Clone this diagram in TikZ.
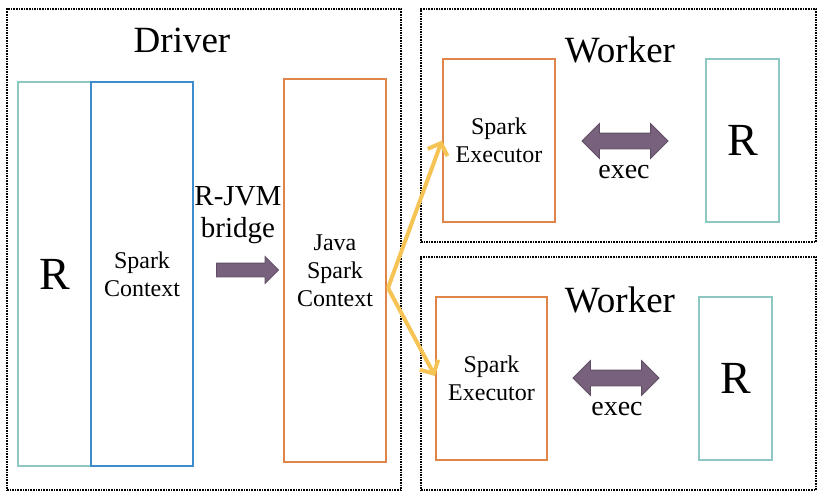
\documentclass[tikz,border=0pt]{standalone}
\usepackage{fontspec}
\setmainfont{Liberation Serif}
\usepackage{tikz}
\usetikzlibrary{shapes,arrows,arrows.meta}
\definecolor{rteal}{rgb}{0.55, 0.78, 0.76}
\definecolor{scblue}{rgb}{0.24, 0.55, 0.80}
\definecolor{jorange}{rgb}{0.88, 0.52, 0.29}
\definecolor{bridgepurple}{rgb}{0.47, 0.38, 0.49}
\definecolor{forkyellow}{rgb}{0.96, 0.77, 0.33}

\begin{document}
\begin{tikzpicture}[x=1pt,y=-1pt,
  frame/.style={draw, densely dotted, line width=1.6pt, inner sep=0, minimum width=395, minimum height=233},
  rbox/.style={draw=rteal, line width=2pt, inner sep=0, minimum width=73, font=\fontsize{46}{50}\selectfont},
  cbox/.style={line width=2pt, inner sep=0, align=center, font=\fontsize{24}{28}\selectfont},
  title/.style={font=\fontsize{37}{40}\selectfont},
  fat/.style={fill=bridgepurple, draw=bridgepurple!80!black, line width=0.8pt, inner xsep=0, inner ysep=7.5},
  fork/.style={draw=forkyellow, line width=4pt, -{Straight Barb[length=10pt,width=21pt]}}]
\useasboundingbox (0,0) rectangle (823,498);
% frames
\node[frame, minimum width=394, minimum height=481] (driver) at (204,249.5) {};
\node[frame] (worker1) at (618.5,125.5) {};
\node[frame] (worker2) at (618.5,373.5) {};
\node[title] (drivertitle) at (182,40) {Driver};
\node[title] (worker1title) at (620,50) {Worker};
\node[title] (worker2title) at (620,300) {Worker};
% driver
\node[rbox, minimum height=384] (dR) at (54.5,274) {R};
\node[cbox, draw=scblue, minimum width=102, minimum height=384] (sc) at (142,274) {Spark\\Context};
\node[cbox, draw=jorange, minimum width=102, minimum height=383] (jsc) at (335,270.5) {Java\\Spark\\Context};
\node[align=center, font=\fontsize{29}{32}\selectfont] (bridge) at (238,215) {R-JVM\\bridge};
\node[fat, inner ysep=6.5, single arrow, minimum height=62, single arrow head extend=6.5] (bridgearrow) at (244,270) {};
% workers
\node[cbox, draw=jorange, minimum width=112, minimum height=163] (ex1) at (499,140.5) {Spark\\Executor};
\node[rbox, minimum height=163] (wR1) at (742.5,140.5) {R};
\node[fat, double arrow, minimum height=86, double arrow head extend=9.5] (execarrow1) at (625,141) {};
\node[font=\fontsize{28}{30}\selectfont] (exec1) at (624,172) {exec};
\node[cbox, draw=jorange, minimum width=111, minimum height=163] (ex2) at (491.5,378.5) {Spark\\Executor};
\node[rbox, minimum height=163] (wR2) at (735.5,378.5) {R};
\node[fat, double arrow, minimum height=86, double arrow head extend=9.5] (execarrow2) at (616,378) {};
\node[font=\fontsize{28}{30}\selectfont] (exec2) at (617,409) {exec};
% fork
\coordinate (split) at ([xshift=1pt,yshift=-17.5pt]jsc.east);
\draw[fork] (split) -- (ex1.west);
\draw[fork] (split) -- ([yshift=2.5pt]ex2.west);
\end{tikzpicture}
\end{document}
